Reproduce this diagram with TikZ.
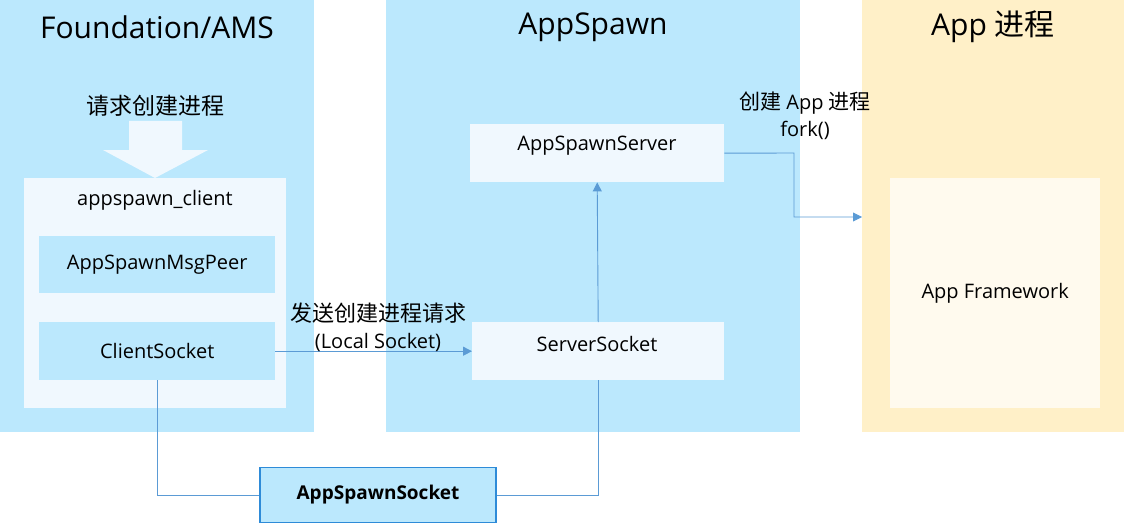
\documentclass[tikz,border=0pt]{standalone}
\usepackage{fontspec}
\setmainfont{Open Sans}
\newfontfamily\cjk{Noto Sans CJK SC}
\usetikzlibrary{arrows.meta}
\definecolor{panelblue}{HTML}{BBE8FD}
\definecolor{paleblue}{HTML}{F0F8FE}
\definecolor{panelyellow}{HTML}{FFF0C8}
\definecolor{paleyellow}{HTML}{FFFAEE}
\definecolor{linec}{HTML}{5B9BD5}
\definecolor{borderc}{HTML}{2E8BD8}
\begin{document}
\begin{tikzpicture}[x=1pt,y=-1pt,
  panel/.style={fill=#1,draw=none,inner sep=0},
  box/.style={fill=#1,draw=none,inner sep=0,font=\fontsize{20}{22}\selectfont},
  title/.style={font=\fontsize{30}{34}\selectfont,inner sep=0},
  lbl/.style={font=\fontsize{20}{24}\selectfont,inner sep=0,align=center},
  conn/.style={draw=linec,line width=0.9pt},
  arr/.style={conn,-{Triangle[length=9pt,width=9pt]}}]
\useasboundingbox (0,0) rectangle (1124,524);
% panels
\fill[panelblue] (0,0) rectangle (314,432);
\fill[panelblue] (386,0) rectangle (800,432);
\fill[panelyellow] (862,0) rectangle (1124,432);
\node[title] (t1) at (157,27) {Foundation/AMS};
\node[title] (t2) at (593,27) {AppSpawn};
\node[title] (t3) at (993,27) {App {\cjk 进程}};
% request label and big arrow
\node[inner sep=0,font=\cjk\fontsize{23}{26}\selectfont] (req) at (155,106) {请求创建进程};
\fill[paleblue] (129,121) -- (182,121) -- (182,150) -- (208,150) -- (155,178) -- (103,150) -- (129,150) -- cycle;
% client box
\node[panel=paleblue,minimum width=262pt,minimum height=230pt,anchor=north west] (client) at (24,178) {};
\node[box=paleblue] (clientlbl) at (155,200) {appspawn\_client};
\node[box=panelblue,minimum width=236pt,minimum height=57pt,anchor=north west] (peer) at (39,236) {AppSpawnMsgPeer};
\node[box=panelblue,minimum width=236pt,minimum height=58pt,anchor=north west] (csock) at (39,322) {ClientSocket};
% server boxes
\node[panel=paleblue,minimum width=254pt,minimum height=58pt,anchor=north west] (server) at (470,124) {};
\node[box=paleblue] (serverlbl) at (597,146) {AppSpawnServer};
\node[panel=paleblue,minimum width=252pt,minimum height=58pt,anchor=north west] (ssock) at (472,322) {};
\node[box=paleblue] (ssocklbl) at (597,344) {ServerSocket};
% app framework
\node[box=paleyellow,minimum width=210pt,minimum height=230pt,anchor=north west] (fw) at (890,178) {App Framework};
% socket
\node[box=panelblue,draw=borderc,line width=1.8pt,minimum width=236pt,minimum height=55pt,font=\bfseries\fontsize{19}{20}\selectfont] (asock) at (378,495) {AppSpawnSocket};
% connectors
\coordinate (apptarget) at (862,217);
\draw[arr] (csock.east) -- (ssock.west);
\draw[arr] (ssock.north) -- (server.south);
\draw[arr] (server.east) -- (794,153) |- (apptarget);
\draw[conn] (csock.south) |- (asock.west);
\draw[conn] (asock.east) -| (ssock.south);
% labels
\node[lbl,font=\cjk\fontsize{22}{24}\selectfont] (l1) at (378,313) {发送创建进程请求};
\node[lbl] (l2) at (378,342) {(Local Socket)};
\node[lbl] (l3) at (805,103) {{\cjk\fontsize{21}{24}\selectfont 创建} App {\cjk\fontsize{21}{24}\selectfont 进程}};
\node[lbl] (l4) at (805,130) {fork()};
\end{tikzpicture}
\end{document}
